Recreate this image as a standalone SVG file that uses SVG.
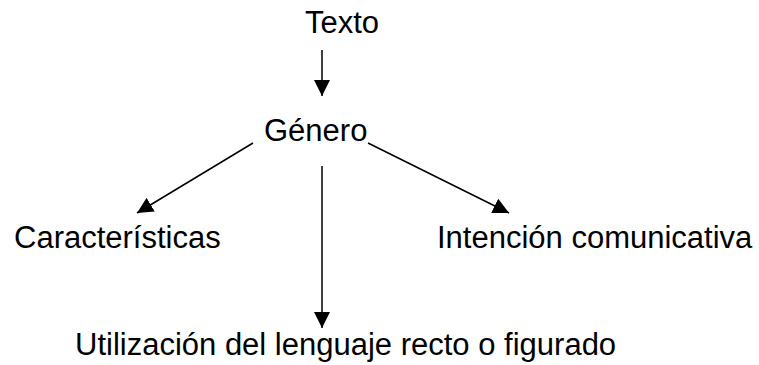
<svg xmlns="http://www.w3.org/2000/svg" width="759" height="365" viewBox="0 0 759 365">
<defs>
<style>
text{font-family:"Liberation Sans",Arial,sans-serif;font-size:31px;fill:#000}
.c{stroke:#000;stroke-width:1.5;fill:none}
</style>
<marker id="ah" markerUnits="userSpaceOnUse" markerWidth="18" markerHeight="16" refX="16" refY="8" orient="auto">
<path d="M0,0 L16,8 L0,16 Z" fill="#000"/>
</marker>
</defs>
<rect width="759" height="365" fill="#fff"/>
<g id="connectors">
<line class="c" x1="322" y1="50" x2="322" y2="96" marker-end="url(#ah)"/>
<line class="c" x1="253" y1="143" x2="137" y2="213" marker-end="url(#ah)"/>
<line class="c" x1="368" y1="143" x2="509" y2="213" marker-end="url(#ah)"/>
<line class="c" x1="322" y1="166" x2="322" y2="328" marker-end="url(#ah)"/>
</g>
<g id="texto"><text x="305" y="33">Texto</text></g>
<g id="genero"><text x="264" y="141">Género</text></g>
<g id="caracteristicas"><text x="14" y="248">Características</text></g>
<g id="intencion"><text x="437" y="248">Intención comunicativa</text></g>
<g id="utilizacion"><text x="75" y="355">Utilización del lenguaje recto o figurado</text></g>
</svg>
